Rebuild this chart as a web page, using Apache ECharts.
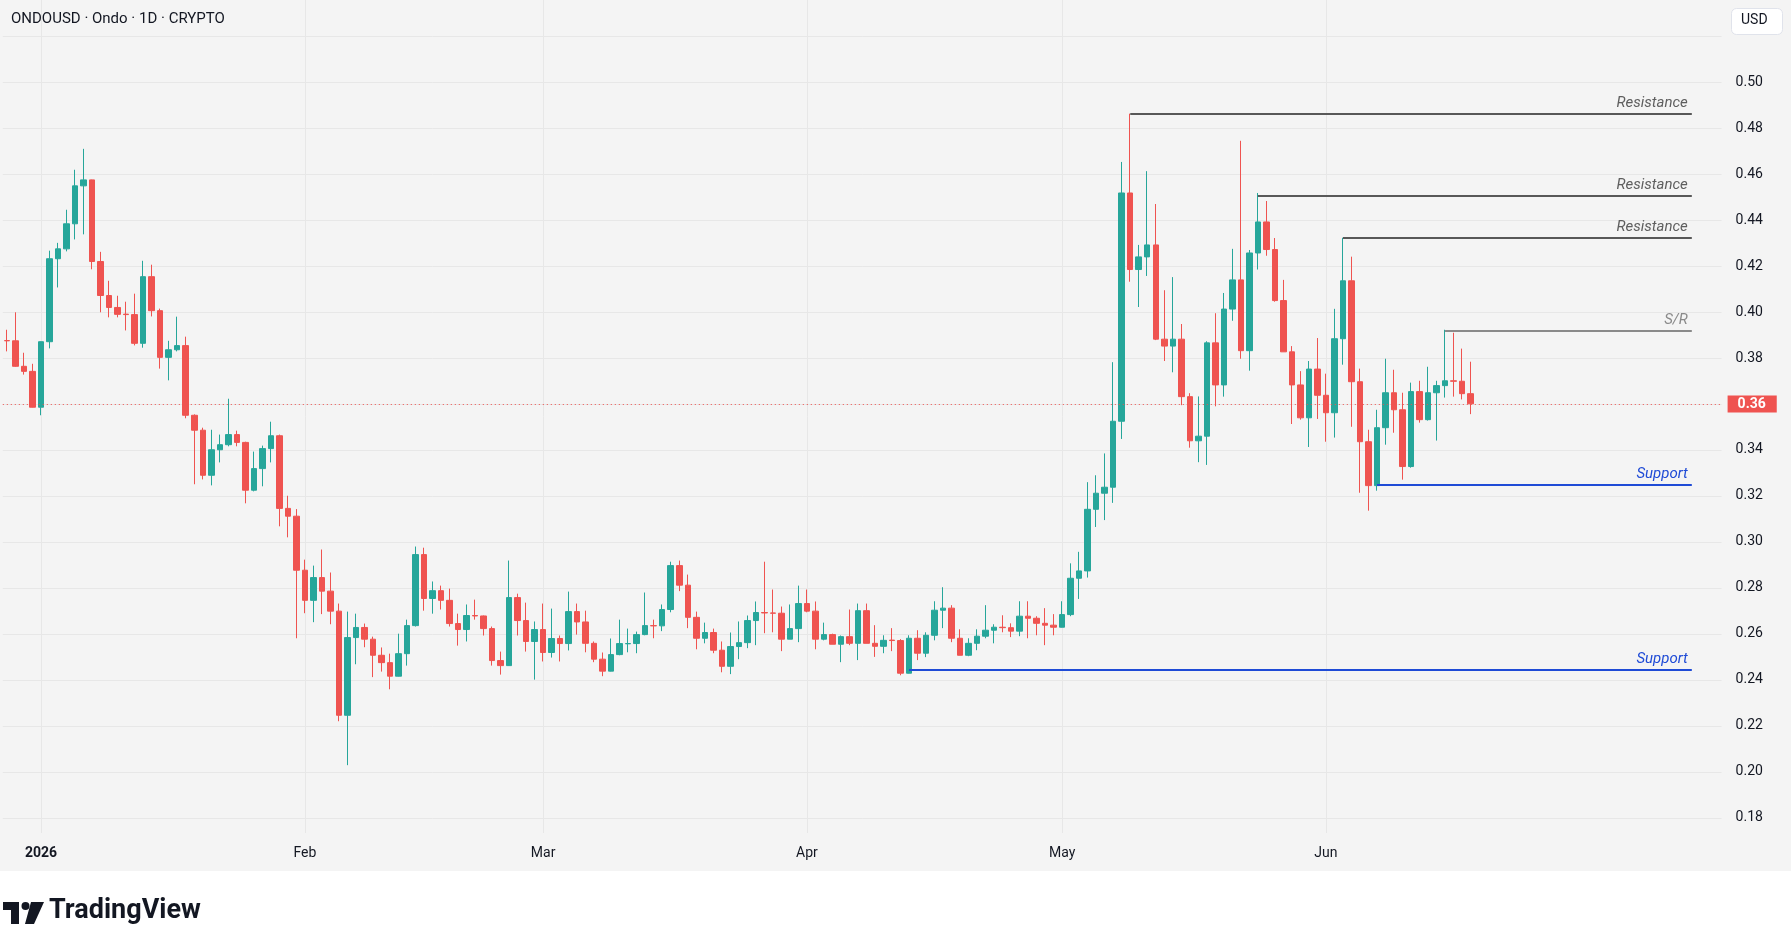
<!DOCTYPE html>
<html>
<head>
<meta charset="utf-8">
<title>ONDOUSD · Ondo · 1D</title>
<script src="https://cdn.jsdelivr.net/npm/echarts@6/dist/echarts.min.js"></script>
<style>
  html, body { margin: 0; padding: 0; background: #fff; }
  #chart { width: 1791px; height: 947px; }
</style>
</head>
<body>
<div id="chart"></div>
<script>
// ONDOUSD daily candles, 28 Dec 2025 -> 18 Jun 2026.
// One entry per day; the category axis keeps some empty days on the right
// like the TradingView pane does.

const FIRST_DAY = Date.UTC(2025, 11, 28);
const SLOT_COUNT = 202;

const opens = [
  0.3876, 0.3875, 0.3764, 0.3742,
  // Jan
  0.3586, 0.3871, 0.4232, 0.4275, 0.4384, 0.4549, 0.4575, 0.4220, 0.4072, 0.4020,
  0.3991, 0.3989, 0.3864, 0.4154, 0.4006, 0.3803, 0.3836, 0.3854, 0.3551, 0.3486,
  0.3290, 0.3401, 0.3423, 0.3467, 0.3433, 0.3225, 0.3319, 0.3406, 0.3462, 0.3146, 0.3112,
  // Feb
  0.2877, 0.2746, 0.2845, 0.2786, 0.2699, 0.2246, 0.2584, 0.2628, 0.2577, 0.2507,
  0.2475, 0.2416, 0.2514, 0.2636, 0.2945, 0.2754, 0.2788, 0.2746, 0.2645, 0.2619,
  0.2680, 0.2678, 0.2623, 0.2484, 0.2462, 0.2758, 0.2658, 0.2567,
  // Mar
  0.2619, 0.2519, 0.2580, 0.2558, 0.2697, 0.2652, 0.2559, 0.2490, 0.2438, 0.2510,
  0.2557, 0.2558, 0.2597, 0.2636, 0.2635, 0.2706, 0.2897, 0.2812, 0.2672, 0.2581,
  0.2606, 0.2529, 0.2459, 0.2545, 0.2562, 0.2658, 0.2693, 0.2691, 0.2690, 0.2577, 0.2623,
  // Apr
  0.2732, 0.2699, 0.2577, 0.2597, 0.2555, 0.2588, 0.2559, 0.2701, 0.2559, 0.2546,
  0.2573, 0.2571, 0.2429, 0.2581, 0.2516, 0.2594, 0.2703, 0.2712, 0.2581, 0.2507,
  0.2559, 0.2590, 0.2616, 0.2629, 0.2627, 0.2612, 0.2677, 0.2668, 0.2646, 0.2638,
  // May
  0.2629, 0.2684, 0.2842, 0.2874, 0.3142, 0.3212, 0.3238, 0.3525, 0.4518, 0.4185,
  0.4240, 0.4292, 0.3882, 0.3852, 0.3882, 0.3632, 0.3440, 0.3460, 0.3866, 0.3683,
  0.4013, 0.4140, 0.3832, 0.4257, 0.4392, 0.4272, 0.4050, 0.3827, 0.3683, 0.3540, 0.3752,
  // Jun
  0.3638, 0.3562, 0.3884, 0.4136, 0.3697, 0.3436, 0.3245, 0.3497, 0.3649, 0.3575,
  0.3328, 0.3654, 0.3532, 0.3649, 0.3680, 0.3701, 0.3699, 0.3645
];

const closes = [
  0.3875, 0.3764, 0.3742, 0.3586,
  0.3871, 0.4232, 0.4275, 0.4384, 0.4549, 0.4575, 0.4220, 0.4072, 0.4020, 0.3990,
  0.3989, 0.3864, 0.4154, 0.4006, 0.3803, 0.3836, 0.3854, 0.3551, 0.3486, 0.3290,
  0.3401, 0.3423, 0.3467, 0.3433, 0.3225, 0.3319, 0.3406, 0.3462, 0.3146, 0.3112, 0.2877,
  0.2746, 0.2845, 0.2786, 0.2699, 0.2246, 0.2584, 0.2628, 0.2577, 0.2507, 0.2475,
  0.2416, 0.2514, 0.2636, 0.2945, 0.2754, 0.2788, 0.2746, 0.2645, 0.2619, 0.2680,
  0.2678, 0.2623, 0.2484, 0.2462, 0.2758, 0.2658, 0.2567, 0.2619,
  0.2519, 0.2580, 0.2558, 0.2697, 0.2652, 0.2559, 0.2490, 0.2438, 0.2510, 0.2558,
  0.2558, 0.2597, 0.2636, 0.2635, 0.2706, 0.2897, 0.2812, 0.2672, 0.2581, 0.2606,
  0.2529, 0.2459, 0.2545, 0.2562, 0.2658, 0.2693, 0.2691, 0.2690, 0.2577, 0.2623, 0.2732,
  0.2699, 0.2577, 0.2597, 0.2555, 0.2588, 0.2559, 0.2701, 0.2559, 0.2546, 0.2572,
  0.2571, 0.2429, 0.2581, 0.2516, 0.2594, 0.2703, 0.2712, 0.2581, 0.2507, 0.2559,
  0.2590, 0.2616, 0.2629, 0.2627, 0.2612, 0.2677, 0.2668, 0.2646, 0.2638, 0.2629,
  0.2684, 0.2842, 0.2874, 0.3142, 0.3212, 0.3238, 0.3525, 0.4518, 0.4185, 0.4240,
  0.4292, 0.3882, 0.3852, 0.3882, 0.3632, 0.3440, 0.3460, 0.3866, 0.3683, 0.4013,
  0.4140, 0.3832, 0.4257, 0.4392, 0.4272, 0.4050, 0.3827, 0.3683, 0.3540, 0.3752, 0.3638,
  0.3562, 0.3884, 0.4136, 0.3697, 0.3436, 0.3245, 0.3497, 0.3649, 0.3575, 0.3328,
  0.3654, 0.3532, 0.3649, 0.3680, 0.3701, 0.3699, 0.3645, 0.3601
];

const lows = [
  0.3829, 0.3762, 0.3728, 0.3585,
  0.3551, 0.3842, 0.4107, 0.4264, 0.4316, 0.4338, 0.4186, 0.3999, 0.3977, 0.3977,
  0.3920, 0.3855, 0.3845, 0.3981, 0.3754, 0.3703, 0.3829, 0.3538, 0.3251, 0.3272,
  0.3246, 0.3346, 0.3416, 0.3416, 0.3168, 0.3220, 0.3242, 0.3346, 0.3068, 0.3020, 0.2581,
  0.2690, 0.2651, 0.2686, 0.2642, 0.2220, 0.2029, 0.2468, 0.2542, 0.2412, 0.2436,
  0.2359, 0.2415, 0.2462, 0.2632, 0.2701, 0.2688, 0.2706, 0.2632, 0.2549, 0.2567,
  0.2662, 0.2593, 0.2462, 0.2423, 0.2461, 0.2593, 0.2523, 0.2401,
  0.2480, 0.2497, 0.2480, 0.2528, 0.2597, 0.2520, 0.2477, 0.2416, 0.2437, 0.2507,
  0.2520, 0.2516, 0.2594, 0.2581, 0.2612, 0.2694, 0.2786, 0.2625, 0.2533, 0.2559,
  0.2516, 0.2433, 0.2425, 0.2490, 0.2538, 0.2551, 0.2603, 0.2607, 0.2525, 0.2577, 0.2564,
  0.2694, 0.2533, 0.2572, 0.2555, 0.2477, 0.2551, 0.2486, 0.2559, 0.2500, 0.2516,
  0.2525, 0.2420, 0.2428, 0.2486, 0.2499, 0.2572, 0.2625, 0.2564, 0.2507, 0.2503,
  0.2529, 0.2581, 0.2559, 0.2607, 0.2586, 0.2590, 0.2581, 0.2594, 0.2551, 0.2594,
  0.2628, 0.2677, 0.2752, 0.2845, 0.3065, 0.3095, 0.3170, 0.3448, 0.4132, 0.4022,
  0.4157, 0.3878, 0.3787, 0.3738, 0.3595, 0.3410, 0.3347, 0.3335, 0.3590, 0.3632,
  0.3962, 0.3797, 0.3745, 0.4185, 0.4245, 0.4045, 0.3827, 0.3513, 0.3532, 0.3413, 0.3535,
  0.3436, 0.3454, 0.3771, 0.3501, 0.3214, 0.3136, 0.3223, 0.3423, 0.3475, 0.3271,
  0.3323, 0.3519, 0.3528, 0.3441, 0.3628, 0.3632, 0.3620, 0.3556
];

const highs = [
  0.3923, 0.3999, 0.3823, 0.3775,
  0.3872, 0.4267, 0.4301, 0.4445, 0.4619, 0.4710, 0.4576, 0.4262, 0.4136, 0.4071,
  0.4045, 0.4080, 0.4223, 0.4206, 0.4015, 0.3875, 0.3980, 0.3893, 0.3555, 0.3497,
  0.3488, 0.3467, 0.3623, 0.3484, 0.3436, 0.3393, 0.3419, 0.3523, 0.3467, 0.3201, 0.3143,
  0.2923, 0.2897, 0.2967, 0.2867, 0.2732, 0.2697, 0.2688, 0.2645, 0.2588, 0.2541,
  0.2514, 0.2601, 0.2662, 0.2980, 0.2975, 0.2828, 0.2810, 0.2797, 0.2688, 0.2728,
  0.2749, 0.2680, 0.2632, 0.2523, 0.2919, 0.2775, 0.2736, 0.2654,
  0.2732, 0.2710, 0.2593, 0.2784, 0.2732, 0.2701, 0.2567, 0.2519, 0.2580, 0.2662,
  0.2623, 0.2610, 0.2780, 0.2662, 0.2728, 0.2914, 0.2919, 0.2858, 0.2697, 0.2649,
  0.2623, 0.2567, 0.2606, 0.2654, 0.2680, 0.2741, 0.2914, 0.2793, 0.2719, 0.2728, 0.2810,
  0.2793, 0.2741, 0.2649, 0.2601, 0.2593, 0.2706, 0.2732, 0.2732, 0.2638, 0.2594,
  0.2625, 0.2577, 0.2594, 0.2616, 0.2607, 0.2742, 0.2803, 0.2725, 0.2620, 0.2581,
  0.2620, 0.2725, 0.2642, 0.2681, 0.2646, 0.2742, 0.2742, 0.2677, 0.2712, 0.2686,
  0.2742, 0.2907, 0.2957, 0.3260, 0.3290, 0.3385, 0.3782, 0.4653, 0.4863, 0.4292,
  0.4613, 0.4470, 0.4095, 0.4152, 0.3948, 0.3647, 0.3633, 0.3873, 0.3995, 0.4083,
  0.4275, 0.4745, 0.4270, 0.4518, 0.4483, 0.4322, 0.4140, 0.3852, 0.3743, 0.3787, 0.3887,
  0.3732, 0.4014, 0.4323, 0.4241, 0.3754, 0.3488, 0.3575, 0.3797, 0.3749, 0.3649,
  0.3693, 0.3701, 0.3762, 0.3701, 0.3923, 0.3910, 0.3841, 0.3784
];

// Drawn levels: label, price, first day of the line.
const levelNames = ['Resistance', 'Resistance', 'Resistance', 'S/R', 'Support', 'Support'];
const levelPrices = [0.4862, 0.4506, 0.4324, 0.3920, 0.3249, 0.2445];
const levelStarts = ['2026-05-09', '2026-05-24', '2026-06-03', '2026-06-15', '2026-06-07', '2026-04-13'];

const MONTHS = ['Jan', 'Feb', 'Mar', 'Apr', 'May', 'Jun', 'Jul', 'Aug', 'Sep', 'Oct', 'Nov', 'Dec'];
const FONT = 'Roboto, "Noto Sans", "DejaVu Sans", sans-serif';
const UP = '#26a69a';
const DOWN = '#ef5350';
const GRID_LINE = '#e7e7e7';
const LEVEL_END_SLOT = 198;

const dates = [];
for (let i = 0; i < SLOT_COUNT; i++) {
  dates.push(new Date(FIRST_DAY + i * 86400000).toISOString().slice(0, 10));
}

const candles = opens.map((o, i) => [o, closes[i], lows[i], highs[i]]);
const lastClose = closes[closes.length - 1];

// Month starts inside the traded range get a label and a vertical grid line.
function isMonthStart(index, value) {
  return index < opens.length && String(value).slice(8) === '01';
}

function levelStyle(name) {
  if (name === 'Support') return { line: '#1f4bd6', text: '#1f4bd6' };
  if (name === 'S/R') return { line: '#8a8a8a', text: '#8a8a8a' };
  return { line: '#585858', text: '#5e5e5e' };
}

const levelLines = levelNames.map((name, i) => {
  const st = levelStyle(name);
  return [
    {
      coord: [levelStarts[i], levelPrices[i]],
      lineStyle: { color: st.line, width: 2, type: 'solid' },
      label: {
        show: true,
        position: 'insideEndTop',
        formatter: name,
        color: st.text,
        fontStyle: 'italic',
        fontFamily: FONT,
        fontSize: 15,
        distance: [4, 3],
      },
    },
    { coord: [dates[LEVEL_END_SLOT], levelPrices[i]] },
  ];
});

const lastPriceLine = {
  yAxis: lastClose,
  lineStyle: { color: DOWN, width: 1, type: [1, 3] },
  label: {
    show: true,
    position: 'end',
    distance: 6,
    formatter: lastClose.toFixed(2),
    color: '#ffffff',
    backgroundColor: DOWN,
    fontFamily: FONT,
    fontSize: 14,
    fontWeight: 'bold',
    padding: [2, 11, 1, 10],
  },
};

const chart = echarts.init(document.getElementById('chart'));

const PLOT_LEFT = 2.8;
const PLOT_RIGHT = 69.4;

chart.setOption({
  animation: false,
  backgroundColor: '#f4f4f4',
  textStyle: { fontFamily: FONT },
  grid: [
    // price pane
    { left: PLOT_LEFT, right: PLOT_RIGHT, top: 36.2, bottom: 129.2 },
    // same columns, full pane height: only carries the vertical month lines
    { left: PLOT_LEFT, right: PLOT_RIGHT, top: 0, bottom: 114 },
  ],
  xAxis: [
    {
      type: 'category',
      data: dates,
      boundaryGap: true,
      axisLine: { show: false },
      axisTick: { show: false },
      axisLabel: {
        interval: isMonthStart,
        margin: 29,
        color: '#131722',
        fontSize: 14,
        formatter: (value) => {
          const m = Number(value.slice(5, 7)) - 1;
          return m === 0 ? '{year|' + value.slice(0, 4) + '}' : MONTHS[m];
        },
        rich: { year: { fontWeight: 'bold', fontSize: 14, color: '#131722' } },
      },
      splitLine: { show: false },
    },
    {
      type: 'category',
      gridIndex: 1,
      data: dates,
      boundaryGap: true,
      axisLine: { show: false },
      axisTick: { show: false },
      axisLabel: { show: false },
      splitLine: {
        show: true,
        interval: isMonthStart,
        alignWithLabel: true,
        lineStyle: { color: GRID_LINE, width: 1 },
      },
    },
  ],
  yAxis: [
    {
      type: 'value',
      position: 'right',
      min: 0.18,
      max: 0.52,
      interval: 0.02,
      axisLine: { show: false },
      axisTick: { show: false },
      axisLabel: {
        margin: 14,
        color: '#131722',
        fontSize: 14,
        formatter: (v) => (v >= 0.519 ? '' : v.toFixed(2)),
      },
      splitLine: { lineStyle: { color: GRID_LINE, width: 1 } },
    },
    {
      type: 'value',
      gridIndex: 1,
      show: false,
      min: 0,
      max: 1,
      splitLine: { show: false },
    },
  ],
  series: [
    {
      type: 'candlestick',
      data: candles,
      barWidth: 6,
      z: 3,
      itemStyle: {
        color: UP,
        color0: DOWN,
        borderColor: UP,
        borderColor0: DOWN,
        borderColorDoji: DOWN,
        borderWidth: 1,
      },
      markLine: {
        silent: true,
        symbol: ['none', 'none'],
        data: [...levelLines, lastPriceLine],
      },
    },
  ],
  graphic: [
    // white strip under the chart pane
    {
      type: 'rect',
      left: 0,
      top: 871,
      shape: { width: 1791, height: 76 },
      style: { fill: '#ffffff' },
      silent: true,
    },
    {
      type: 'text',
      left: 11,
      top: 12,
      style: {
        text: 'ONDOUSD · Ondo · 1D · CRYPTO',
        fill: '#131722',
        font: '15px ' + FONT,
      },
    },
    {
      type: 'rect',
      left: 1731,
      top: 8,
      shape: { width: 51, height: 26, r: 5 },
      style: { fill: '#ffffff', stroke: '#e0e3eb', lineWidth: 1 },
    },
    {
      type: 'text',
      left: 1741,
      top: 13,
      style: { text: 'USD', fill: '#131722', font: '14px ' + FONT },
    },
    // TradingView wordmark
    {
      type: 'group',
      left: 3,
      top: 898,
      children: [
        { type: 'rect', shape: { x: 0, y: 2, width: 16, height: 8 }, style: { fill: '#131722' } },
        { type: 'rect', shape: { x: 8, y: 2, width: 8, height: 22 }, style: { fill: '#131722' } },
        { type: 'circle', shape: { cx: 22.5, cy: 6, r: 4 }, style: { fill: '#131722' } },
        {
          type: 'polygon',
          shape: { points: [[28, 2], [41, 2], [31, 24], [22, 24]] },
          style: { fill: '#131722' },
        },
        {
          type: 'text',
          x: 46,
          y: -2,
          style: { text: 'TradingView', fill: '#131722', font: 'bold 27px ' + FONT },
        },
      ],
    },
  ],
});
</script>
</body>
</html>
